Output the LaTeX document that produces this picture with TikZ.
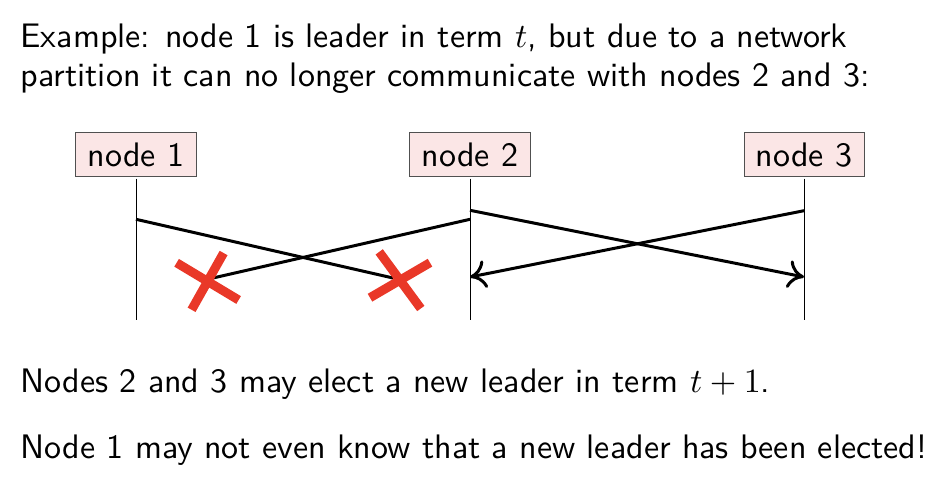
\documentclass[tikz,border=0pt]{standalone}
\usetikzlibrary{arrows.meta,calc}
\definecolor{boxfill}{RGB}{251,230,230}
\definecolor{boxline}{RGB}{80,80,80}
\definecolor{crossred}{RGB}{233,56,40}
\tikzset{
  txt/.style={anchor=base west,inner sep=0pt,scale=3.4,font=\fontsize{10}{12}\selectfont\sffamily},
  proc/.style={draw=boxline,line width=1pt,fill=boxfill,scale=3.4,minimum width=35.3pt,minimum height=12.94pt,inner sep=0pt,font=\fontsize{10}{12}\selectfont\sffamily},
  life/.style={line width=1pt},
  msg/.style={line width=3pt},
  msgarrow/.style={msg,-{Computer Modern Rightarrow[length=16pt,width=28pt]}},
  crossline/.style={line width=9pt,crossred}
}
\begin{document}
\begin{tikzpicture}[x=1pt,y=-1pt]
\useasboundingbox (0,0) rectangle (936,502);
\node[txt] (l1) at (20,47.3) {Example: node 1 is leader in term $t$, but due to a network};
\node[txt] (l2) at (20,86.7) {partition it can no longer communicate with nodes 2 and 3:};
\node[txt] (l3) at (20,392.3) {Nodes 2 and 3 may elect a new leader in term $t+1$.};
\node[txt] (l4) at (20,458.3) {Node 1 may not even know that a new leader has been elected!};

\node[proc] (n1) at (136,155) {node 1};
\node[proc] (n2) at (470,155) {node 2};
\node[proc] (n3) at (804,155) {node 3};

\coordinate (e1) at (136,320);
\coordinate (e2) at (470,320);
\coordinate (e3) at (804,320);
\draw[life] (n1.south) -- (e1);
\draw[life] (n2.south) -- (e2);
\draw[life] (n3.south) -- (e3);

\coordinate (a1) at (136,219.3);
\coordinate (b2) at (393,278);
\coordinate (a2) at (470,219.3);
\coordinate (b1) at (213,278);
\coordinate (c2) at (470,210.3);
\coordinate (d3) at (804,277);
\coordinate (c3) at (804,210.7);
\coordinate (d2) at (470,277);

\draw[msg] (a1) -- (b2);
\draw[msg] (a2) -- (b1);
\draw[msgarrow] (c2) -- (d3);
\draw[msgarrow] (c3) -- (d2);

\coordinate (x1) at (207.6,281.4);
\coordinate (x2) at (400,280.2);
\draw[crossline] ($(x1)+(-31,-18.6)$) -- ($(x1)+(31,18.6)$);
\draw[crossline] ($(x1)+(-16,28.4)$) -- ($(x1)+(16,-28.4)$);
\draw[crossline] ($(x2)+(-30,17.5)$) -- ($(x2)+(30,-17.5)$);
\draw[crossline] ($(x2)+(-20.8,-28.3)$) -- ($(x2)+(20.8,28.3)$);
\end{tikzpicture}
\end{document}
